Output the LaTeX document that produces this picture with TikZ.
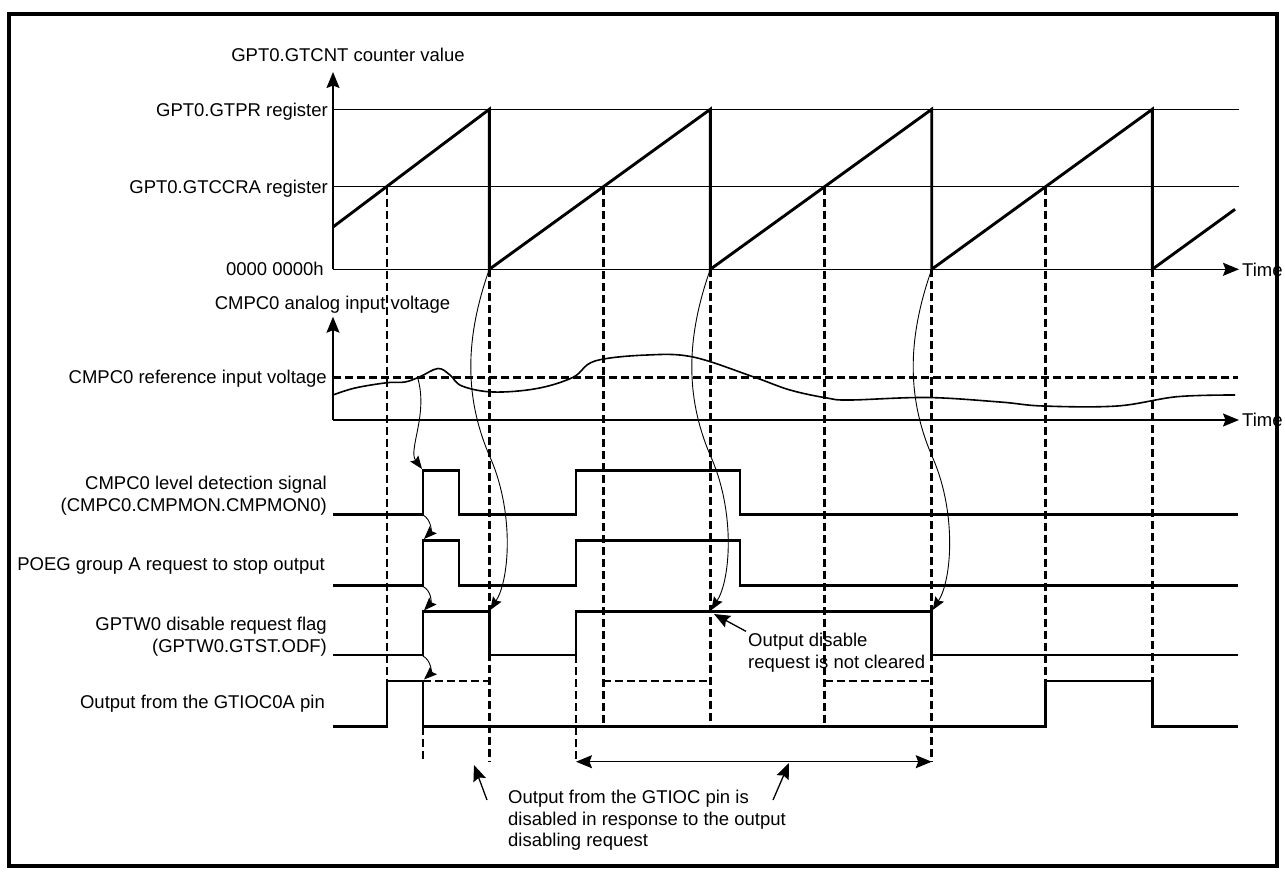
\documentclass[tikz,border=0pt]{standalone}
\usepackage{fontspec}
\setmainfont{Liberation Sans}
\usetikzlibrary{arrows.meta, positioning, calc}

\begin{document}
\begin{tikzpicture}[
        x=1pt, y=-1pt,
        >={Stealth[length=16pt, width=13pt, inset=2.5pt]},
        every node/.style={font=\fontsize{18.5}{21.7}\selectfont, inner sep=2pt},
        axis/.style={line width=1.6pt, ->},
        level/.style={line width=0.9pt},
        wave/.style={line width=2.9pt, line join=miter},
        guide/.style={line width=2.9pt, dash pattern=on 8pt off 4pt},
        cause/.style={line width=0.9pt, -{Stealth[length=13pt, width=10pt, inset=2pt]}},
        pointer/.style={line width=1.3pt, ->},
        siglabel/.style={anchor=east, align=right},
        note/.style={anchor=west, align=left}
    ]
    \useasboundingbox (0,0) rectangle (1285,876);
    % --- Frame ---
    \draw[line width=3.2pt] (9,14) rectangle (1277,866);

    % --- Counter value chart ---
    \coordinate (cntO) at (333,269.3);
    \coordinate (cntTop) at (333,72);
    \coordinate (cntEnd) at (1239,269.3);
    \draw[level] (333,109.3) -- (1239,109.3);
    \draw[level] (333,186.7) -- (1239,186.7);
    \draw[axis] (cntO) -- (cntTop);
    \draw[axis] (cntO) -- (cntEnd);
    \node[anchor=base] (lblCnt) at (348,61) {GPT0.GTCNT counter value};
    \node[anchor=base east] (lblPr) at (330,116) {GPT0.GTPR register};
    \node[anchor=base east] (lblCcra) at (330,193) {GPT0.GTCCRA register};
    \node[anchor=base east] (lblZero) at (326,275.5) {0000 0000h};
    \node[anchor=base west] (lblTimeA) at (1240,276) {Time};

    % --- Analog input chart ---
    \coordinate (anaO) at (333,420);
    \coordinate (anaTop) at (333,316.7);
    \coordinate (anaEnd) at (1239,420);
    \draw[axis] (anaO) -- (anaTop);
    \draw[axis] (anaO) -- (anaEnd);
    \node[anchor=base] (lblAnalog) at (332.5,309) {CMPC0 analog input voltage};
    \node[anchor=base east] (lblRef) at (329,383.5) {CMPC0 reference input voltage};
    \node[anchor=base west] (lblTimeB) at (1240,426.5) {Time};

    % --- Dashed guide lines ---
    \draw[guide] (387,186.7) -- (387,681);
    \draw[guide] (603.4,186.7) -- (603.4,726.7);
    \draw[guide] (824.5,186.7) -- (824.5,726.7);
    \draw[guide] (1045.8,186.7) -- (1045.8,681);
    \draw[guide] (489.3,269.3) -- (489.3,761.7);
    \draw[guide] (710.3,269.3) -- (710.3,726.7);
    \draw[guide] (931.7,269.3) -- (931.7,761.7);
    \draw[guide] (1152.3,269.3) -- (1152.3,681);
    \draw[guide] (423,726.7) -- (423,761.7);
    \draw[guide] (576,655) -- (576,761.7);
    \draw[guide] (423,681) -- (489.3,681);
    \draw[guide] (603.4,681) -- (710.3,681);
    \draw[guide] (824.5,681) -- (931.7,681);
    \draw[guide] (333,377.3) -- (1238,377.3);

    % --- Waveforms ---
    \draw[wave] (333,227) -- (489.3,109.3) -- (489.3,269.3) -- (710.3,109.3) -- (710.3,269.3)
        -- (931.7,109.3) -- (931.7,269.3) -- (1152.3,109.3) -- (1152.3,269.3) -- (1235,209.3);
    \draw[line width=1.6pt] plot[smooth, tension=0.6] coordinates {(333,395) (355,388) (387,382.7)
        (405,382) (420,376.7) (438,368.5) (450,375) (462,386) (493,392) (537,388.5) (573,377.3)
        (595,361) (647,355) (693,357) (753,376.7) (790,390) (827,398) (850,400) (927,397.5)
        (1000,402) (1043,406) (1117,406) (1177,396.7) (1235,395)};
    \draw[wave] (333,514.3) -- (423,514.3) -- (423,470.7) -- (459,470.7) -- (459,514.3) -- (576,514.3)
        -- (576,470.7) -- (740,470.7) -- (740,514.3) -- (1238,514.3);
    \draw[wave] (333,585.7) -- (423,585.7) -- (423,540.7) -- (459,540.7) -- (459,585.7) -- (576,585.7)
        -- (576,540.7) -- (740,540.7) -- (740,585.7) -- (1238,585.7);
    \draw[wave] (333,655) -- (423,655) -- (423,611.7) -- (489.3,611.7) -- (489.3,655) -- (576,655)
        -- (576,611.7) -- (931.7,611.7) -- (931.7,655) -- (1238,655);
    \draw[wave] (333,726.7) -- (387,726.7) -- (387,681) -- (423,681) -- (423,726.7) -- (1045.8,726.7)
        -- (1045.8,681) -- (1152.3,681) -- (1152.3,726.7) -- (1238,726.7);

    % --- Signal labels ---
    \node[siglabel] (lblDet) at (329,495.5) {CMPC0 level detection signal\\(CMPC0.CMPMON.CMPMON0)};
    \node[anchor=base east] (lblPoeg) at (327,570) {POEG group A request to stop output};
    \node[siglabel] (lblOdf) at (329,636.5) {GPTW0 disable request flag\\(GPTW0.GTST.ODF)};
    \node[anchor=base east] (lblOut) at (327,708.5) {Output from the GTIOC0A pin};

    % --- Cause arrows ---
    \draw[cause] (418,379) .. controls (428,415) and (408,450) .. (422,469);
    \draw[cause] (423,515) .. controls (432,520) and (431,532) .. (424,539);
    \draw[cause] (423,586.5) .. controls (432,591) and (431,603) .. (424,610.5);
    \draw[cause] (423,656) .. controls (432,661) and (431,673) .. (424,679.5);
    \draw[cause] (489.3,269.3) .. controls (464.3,340) and (464.3,400) .. (491.3,460)
        .. controls (514.3,515) and (509.3,580) .. (490.3,610);
    \draw[cause] (710.3,269.3) .. controls (685.3,340) and (685.3,400) .. (712.3,460)
        .. controls (735.3,515) and (730.3,580) .. (711.3,610);
    \draw[cause] (931.7,269.3) .. controls (906.7,340) and (906.7,400) .. (933.7,460)
        .. controls (956.7,515) and (951.7,580) .. (932.7,610);

    % --- Notes ---
    \node[note] (noteClear) at (746,653) {Output disable\\request is not cleared};
    \coordinate (clearTip) at (714,614);
    \draw[pointer] (noteClear.north west) -- (clearTip);

    \coordinate (spanL) at (576,761.7);
    \coordinate (spanR) at (931.7,761.7);
    \draw[pointer, <->] (spanL) -- (spanR);

    \node[note] (noteDisable) at (506,820.5) {Output from the GTIOC pin is\\disabled in response to the output\\disabling request};
    \coordinate (ptrLFoot) at (487,800);
    \coordinate (ptrLTip) at (474,765);
    \coordinate (ptrRFoot) at (773,800);
    \coordinate (ptrRTip) at (789,763);
    \draw[pointer] (ptrLFoot) -- (ptrLTip);
    \draw[pointer] (ptrRFoot) -- (ptrRTip);
\end{tikzpicture}
\end{document}
